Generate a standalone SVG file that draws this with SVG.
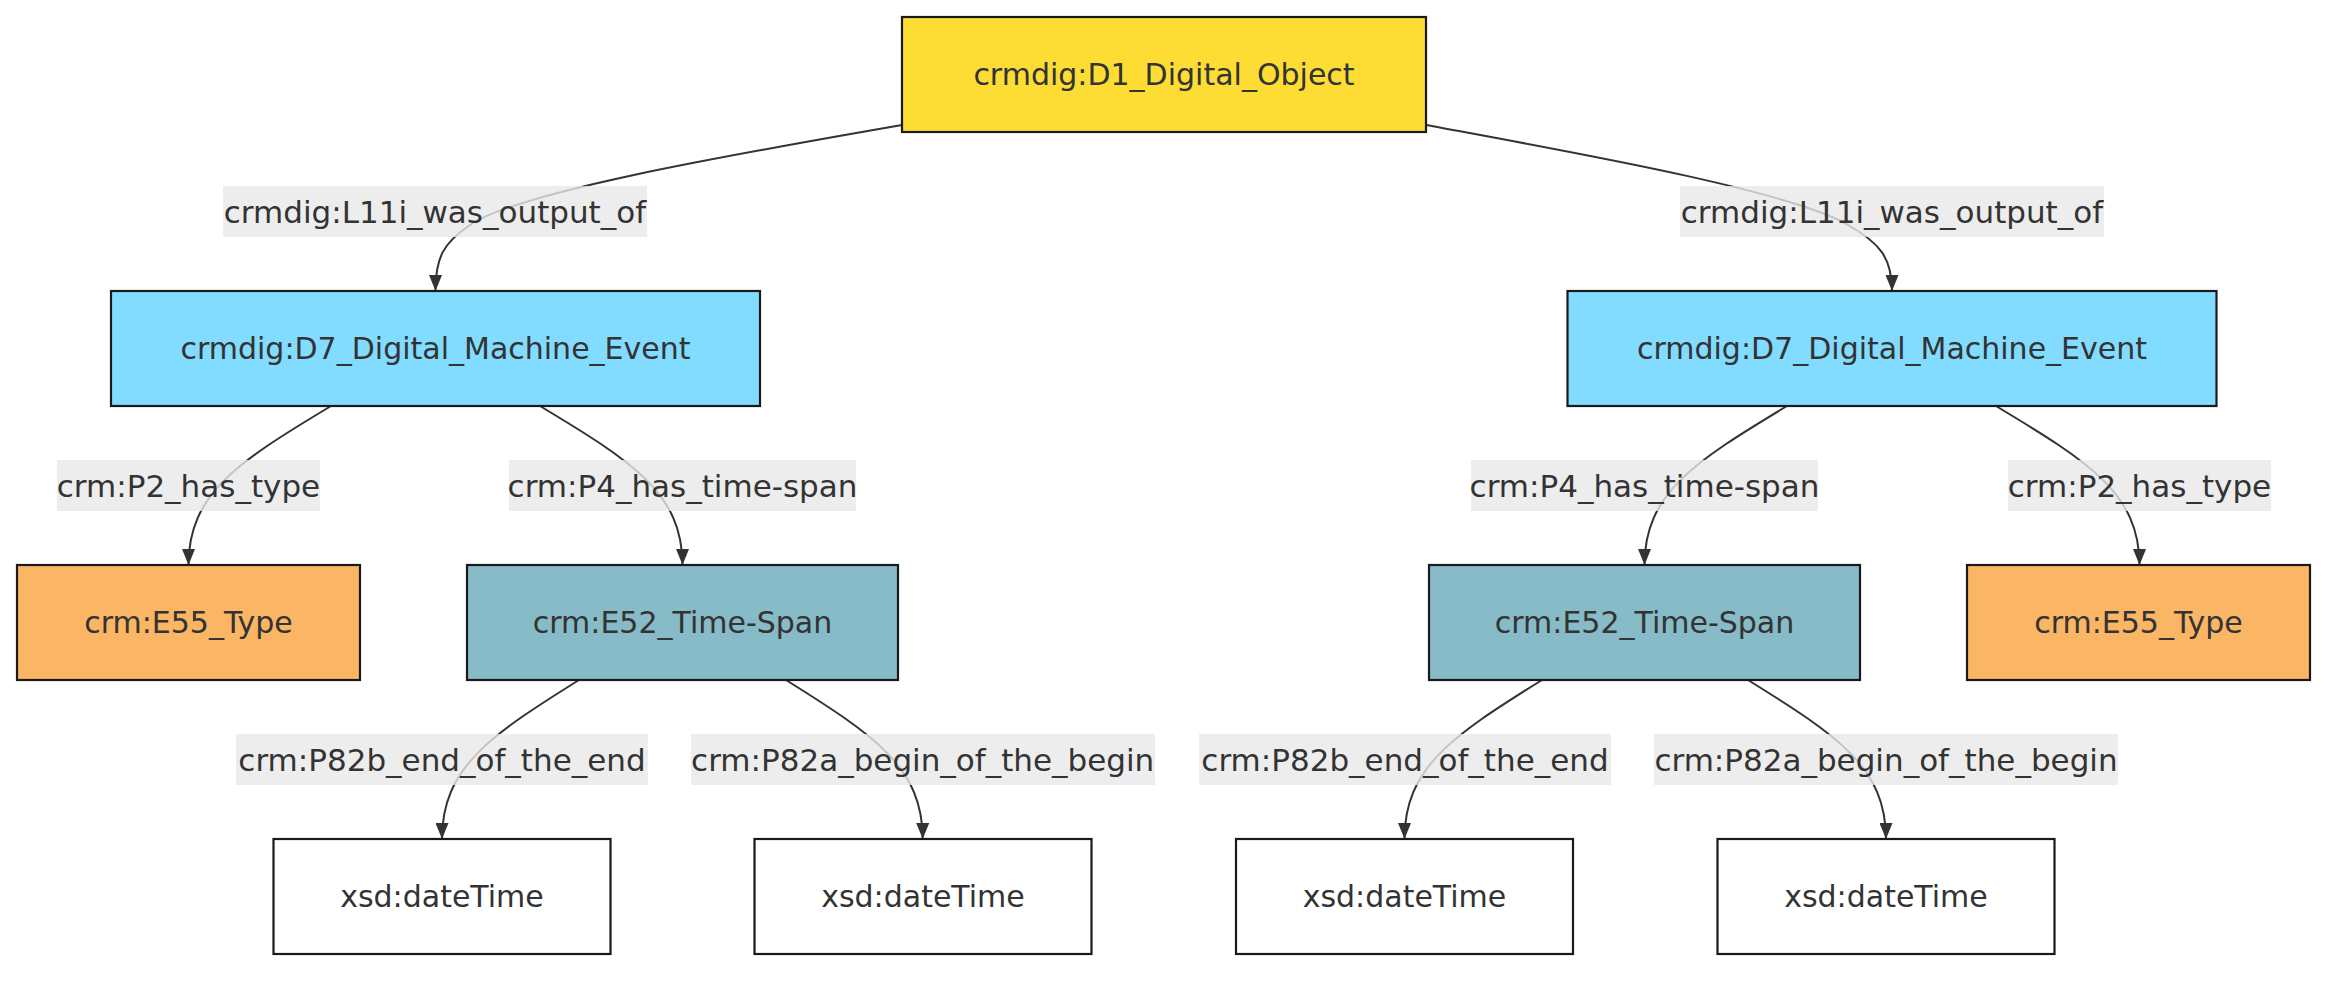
<svg xmlns="http://www.w3.org/2000/svg" width="2352" height="984" viewBox="0 0 2352 984">
<defs>
<style>
.node rect{stroke:#1a1a1a;stroke-width:2.2}
.nt{font-family:"DejaVu Sans",sans-serif;font-size:30px;fill:#333;text-anchor:middle;dominant-baseline:central}
.lt{font-family:"DejaVu Sans",sans-serif;font-size:31px;fill:#333;text-anchor:middle;dominant-baseline:central}
.edge{fill:none;stroke:#333;stroke-width:2;marker-end:url(#arrow)}
.lbl{fill:#e8e8e8;fill-opacity:0.8}
.d1{fill:#fddd33}.d7{fill:#82dcff}.e55{fill:#fab565}.e52{fill:#86bbc7}.xsd{fill:#ffffff}
</style>
<marker id="arrow" viewBox="0 0 16 13" refX="16" refY="6.5" markerWidth="16" markerHeight="13" markerUnits="userSpaceOnUse" orient="auto">
<path d="M0,0 L16,6.5 L0,13 z" fill="#333"/>
</marker>
</defs>
<rect width="2352" height="984" fill="#ffffff"/>
<g id="connectors">
<path class="edge" d="M902,125 C760,150 520,190 470,225 C443,243 435.5,258 435.5,291"/>
<path class="edge" d="M1426,125 C1560,150 1790,190 1848,225 C1880,243 1892,258 1892,291"/>
<path class="edge" d="M331,406 C238.4,461.7 188.5,493.5 188.5,565"/>
<path class="edge" d="M540,406 C632.6,461.7 682.5,493.5 682.5,565"/>
<path class="edge" d="M1787,406 C1694.4,461.7 1644.5,493.5 1644.5,565"/>
<path class="edge" d="M1996,406 C2088.6,461.7 2139.5,493.5 2139.5,565"/>
<path class="edge" d="M579,680 C490,735.7 442,767.5 442,839"/>
<path class="edge" d="M786,680 C874.9,735.7 922.7,767.5 922.7,839"/>
<path class="edge" d="M1542,680 C1452.6,735.7 1404.5,767.5 1404.5,839"/>
<path class="edge" d="M1748,680 C1837.7,735.7 1886,767.5 1886,839"/>
</g>
<g id="edge-labels">
<g><rect class="lbl" x="223" y="186" width="424" height="51"/><text class="lt" x="435" y="211.5">crmdig:L11i_was_output_of</text></g>
<g><rect class="lbl" x="1680" y="186" width="424" height="51"/><text class="lt" x="1892" y="211.5">crmdig:L11i_was_output_of</text></g>
<g><rect class="lbl" x="57" y="460" width="263" height="51"/><text class="lt" x="188.5" y="485.5">crm:P2_has_type</text></g>
<g><rect class="lbl" x="509" y="460" width="347" height="51"/><text class="lt" x="682.5" y="485.5">crm:P4_has_time-span</text></g>
<g><rect class="lbl" x="1471" y="460" width="347" height="51"/><text class="lt" x="1644.5" y="485.5">crm:P4_has_time-span</text></g>
<g><rect class="lbl" x="2008" y="460" width="263" height="51"/><text class="lt" x="2139.5" y="485.5">crm:P2_has_type</text></g>
<g><rect class="lbl" x="236" y="734" width="412" height="51"/><text class="lt" x="442" y="759.5">crm:P82b_end_of_the_end</text></g>
<g><rect class="lbl" x="691" y="734" width="464" height="51"/><text class="lt" x="922.7" y="759.5">crm:P82a_begin_of_the_begin</text></g>
<g><rect class="lbl" x="1199" y="734" width="412" height="51"/><text class="lt" x="1405" y="759.5">crm:P82b_end_of_the_end</text></g>
<g><rect class="lbl" x="1654" y="734" width="464" height="51"/><text class="lt" x="1886" y="759.5">crm:P82a_begin_of_the_begin</text></g>
</g>
<g id="D1" class="node"><rect class="d1" x="902" y="17" width="524" height="115"/><text class="nt" x="1164" y="74.5">crmdig:D1_Digital_Object</text></g>
<g id="D7_left" class="node"><rect class="d7" x="111" y="291" width="649" height="115"/><text class="nt" x="435.5" y="348.5">crmdig:D7_Digital_Machine_Event</text></g>
<g id="D7_right" class="node"><rect class="d7" x="1567.5" y="291" width="649" height="115"/><text class="nt" x="1892" y="348.5">crmdig:D7_Digital_Machine_Event</text></g>
<g id="E55_left" class="node"><rect class="e55" x="17" y="565" width="343" height="115"/><text class="nt" x="188.5" y="622.5">crm:E55_Type</text></g>
<g id="E52_left" class="node"><rect class="e52" x="467" y="565" width="431" height="115"/><text class="nt" x="682.5" y="622.5">crm:E52_Time-Span</text></g>
<g id="E52_right" class="node"><rect class="e52" x="1429" y="565" width="431" height="115"/><text class="nt" x="1644.5" y="622.5">crm:E52_Time-Span</text></g>
<g id="E55_right" class="node"><rect class="e55" x="1967" y="565" width="343" height="115"/><text class="nt" x="2138.5" y="622.5">crm:E55_Type</text></g>
<g id="xsd_1" class="node"><rect class="xsd" x="273.5" y="839" width="337" height="115"/><text class="nt" x="442" y="896.5">xsd:dateTime</text></g>
<g id="xsd_2" class="node"><rect class="xsd" x="754.5" y="839" width="337" height="115"/><text class="nt" x="923" y="896.5">xsd:dateTime</text></g>
<g id="xsd_3" class="node"><rect class="xsd" x="1236" y="839" width="337" height="115"/><text class="nt" x="1404.5" y="896.5">xsd:dateTime</text></g>
<g id="xsd_4" class="node"><rect class="xsd" x="1717.5" y="839" width="337" height="115"/><text class="nt" x="1886" y="896.5">xsd:dateTime</text></g>
</svg>
